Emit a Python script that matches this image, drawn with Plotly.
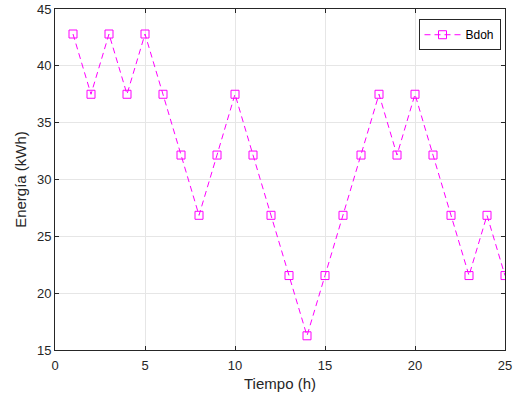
import plotly.graph_objects as go

hours = list(range(1, 26))
bdoh = [42.8, 37.5, 42.8, 37.5, 42.8, 37.5, 32.15, 26.85, 32.15, 37.5,
        32.15, 26.85, 21.55, 16.25, 21.55, 26.85, 32.15, 37.5, 32.15, 37.5,
        32.15, 26.85, 21.55, 26.85, 21.55]
x_ticks = [0, 5, 10, 15, 20, 25]
y_ticks = [15, 20, 25, 30, 35, 40, 45]

fig = go.Figure()
fig.add_trace(go.Scatter(
    x=hours, y=bdoh, name="Bdoh", mode="lines+markers",
    line=dict(color="#FF00FF", width=1, dash="6px,4px"),
    marker=dict(symbol="square-open", size=8, color="#FF00FF", line=dict(width=1)),
))

axis_common = dict(
    showline=True, linecolor="#262626", linewidth=1, mirror="ticks",
    ticks="inside", ticklen=4, tickcolor="#262626", automargin=False,
    showgrid=True, gridcolor="#E6E6E6", gridwidth=1, zeroline=False,
    tickfont=dict(family="Liberation Sans, Arial", size=13, color="#262626"),
)
fig.update_xaxes(range=[0, 25], tickvals=x_ticks, ticklabelstandoff=3,
                 title=dict(text="Tiempo (h)", font=dict(family="Liberation Sans, Arial", size=15, color="#262626"), standoff=6), **axis_common)
fig.update_yaxes(range=[15, 45], tickvals=y_ticks,
                 title=dict(text="Energía (kWh)", font=dict(family="Liberation Sans, Arial", size=15, color="#262626"), standoff=6), **axis_common)

fig.update_layout(
    width=514, height=393,
    margin=dict(l=55, r=9, t=9, b=43),
    paper_bgcolor="white", plot_bgcolor="white",
    showlegend=True,
    legend=dict(x=0.99, y=0.97, xanchor="right", yanchor="top",
                bordercolor="#262626", borderwidth=1, bgcolor="white",
                font=dict(family="Liberation Sans, Arial", size=12, color="#000000"),
                itemwidth=36, tracegroupgap=0),
)
fig.write_html("out.html")
